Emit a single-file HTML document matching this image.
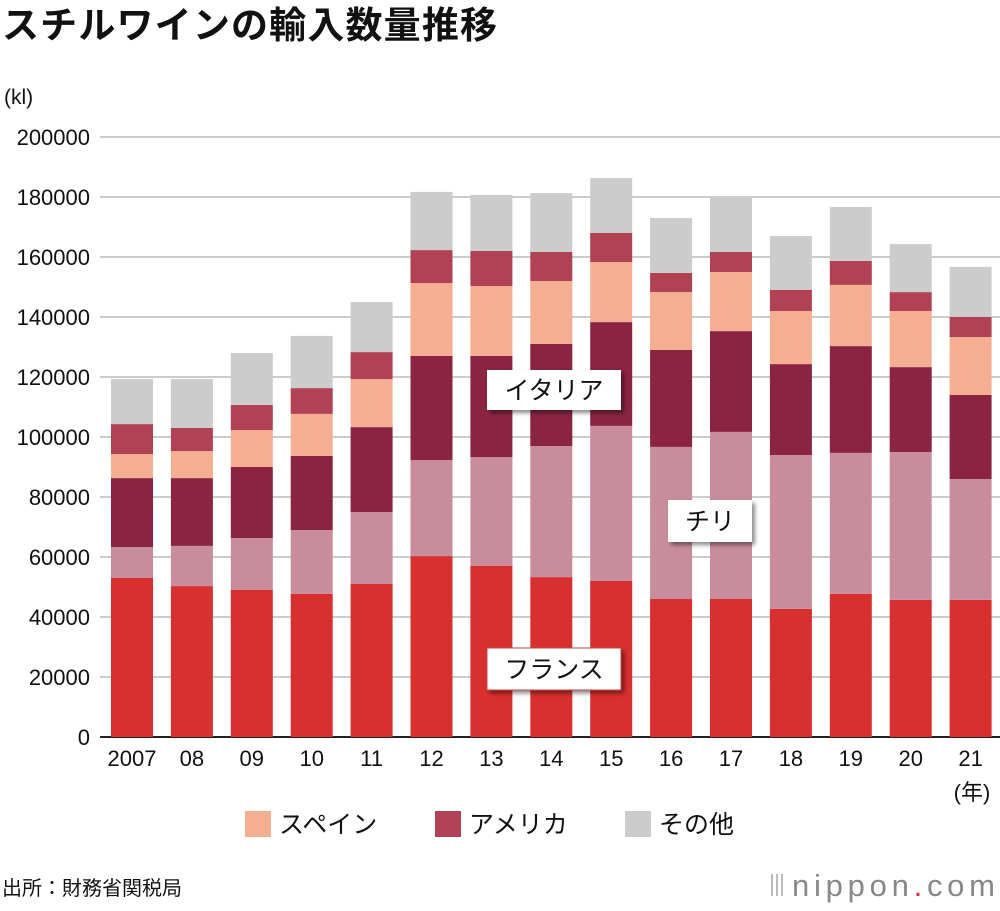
<!DOCTYPE html>
<html><head><meta charset="utf-8">
<style>
body{margin:0;background:#fff;width:1000px;height:906px;overflow:hidden;font-family:"Liberation Sans","Noto Sans CJK JP",sans-serif;}
</style></head>
<body>
<svg id="c" width="1000" height="906" xmlns="http://www.w3.org/2000/svg" font-family="Liberation Sans, Noto Sans CJK JP, sans-serif">
<defs><filter id="sh" x="-20%" y="-20%" width="150%" height="160%"><feDropShadow dx="3" dy="3" stdDeviation="2" flood-color="#000" flood-opacity="0.45"/></filter></defs>
<text x="2" y="38" font-size="37" font-weight="bold" fill="#111" textLength="495">スチルワインの輸入数量推移</text>
<text x="4" y="104" font-size="21" fill="#111">(kl)</text>
<g id="grid"></g><g id="bars"></g><g id="xl"></g>
<text x="972" y="800" font-size="22" text-anchor="middle" fill="#111">(年)</text>
<g><rect x="487" y="370" width="134" height="40" fill="#fff" filter="url(#sh)"/><text x="554" y="399" font-size="25" text-anchor="middle" fill="#111">イタリア</text></g>
<g><rect x="668" y="500" width="84" height="42" fill="#fff" filter="url(#sh)"/><text x="710" y="530" font-size="25" text-anchor="middle" fill="#111">チリ</text></g>
<g><rect x="487" y="648" width="134" height="42" fill="#fff" stroke="#c44" stroke-width="1" filter="url(#sh)"/><text x="554" y="678" font-size="25" text-anchor="middle" fill="#111">フランス</text></g>
<g>
<rect x="245" y="811" width="26" height="26" fill="#f4ae92"/><text x="279" y="833" font-size="25" fill="#111">スペイン</text>
<rect x="435" y="811" width="26" height="26" fill="#b04253"/><text x="469" y="833" font-size="25" fill="#111">アメリカ</text>
<rect x="625" y="811" width="26" height="26" fill="#cccccc"/><text x="659" y="833" font-size="25" fill="#111">その他</text>
</g>
<text x="2" y="895" font-size="20" fill="#111">出所：財務省関税局</text>
<g><rect x="771" y="874" width="2" height="22" fill="#bbb"/><rect x="776" y="874" width="2" height="22" fill="#bbb"/><rect x="781" y="874" width="2" height="22" fill="#bbb"/>
<text x="792" y="896" font-size="31" fill="#888" textLength="203">nippon<tspan fill="#d8302f">.</tspan>com</text></g>
</svg>
<script>
const years=["2007","08","09","10","11","12","13","14","15","16","17","18","19","20","21"];
const france=[53000,50300,49000,47700,51000,60300,57000,53300,52000,46000,46000,42700,47700,45700,45700];
const chile=[10300,13400,17300,21300,24000,32000,36300,43700,51700,50700,55700,51300,47000,49300,40300];
const italy=[23000,22600,23700,24700,28300,34700,33700,34000,34600,32300,33600,30300,35600,28300,28000];
const spain=[8000,9000,12300,14000,16000,24300,23300,21000,20000,19300,19700,17700,20400,18700,19300];
const usa=[10000,7700,8400,8600,9000,11000,11700,9700,9700,6400,6700,7000,8000,6300,6700];
const other=[15000,16300,17300,17400,16700,19400,18700,19600,18300,18300,18000,18000,18000,16000,16700];
const yTicks=[0,20000,40000,60000,80000,100000,120000,140000,160000,180000,200000];
const NS="http://www.w3.org/2000/svg";
const y=v=>737-v*0.003;
const x=i=>132+i*59.9;
function mk(t,a,p){const e=document.createElementNS(NS,t);for(const k in a)e.setAttribute(k,a[k]);p.appendChild(e);return e;}
const g=document.getElementById('grid');
yTicks.forEach(v=>{
 const l=mk('line',{x1:100,x2:1000,y1:y(v),y2:y(v),stroke:v===0?'#222':'#ccc','stroke-width':2},g);
 
 
 const t=mk('text',{x:90,y:y(v)+8,'font-size':22,'text-anchor':'end',fill:'#111'},g);t.textContent=v;
 
 
});
const series=[["france",france,"#d8302f"],["chile",chile,"#c98c9c"],["italy",italy,"#8b2343"],["spain",spain,"#f4ae92"],["usa",usa,"#b04253"],["other",other,"#cccccc"]];
const b=document.getElementById('bars'),xl=document.getElementById('xl');
years.forEach((yr,i)=>{
 let base=0;
 series.forEach(([n,arr,c])=>{
  const top=base+arr[i];
  const r=mk('rect',{x:x(i)-21,width:42,y:y(top),height:y(base)-y(top),fill:c},b);
  
  
  base=top;
 });
 const t=mk('text',{x:x(i),y:766,'font-size':22,'text-anchor':'middle',fill:'#111'},xl);t.textContent=yr;
 
 
});
</script>
</body></html>
